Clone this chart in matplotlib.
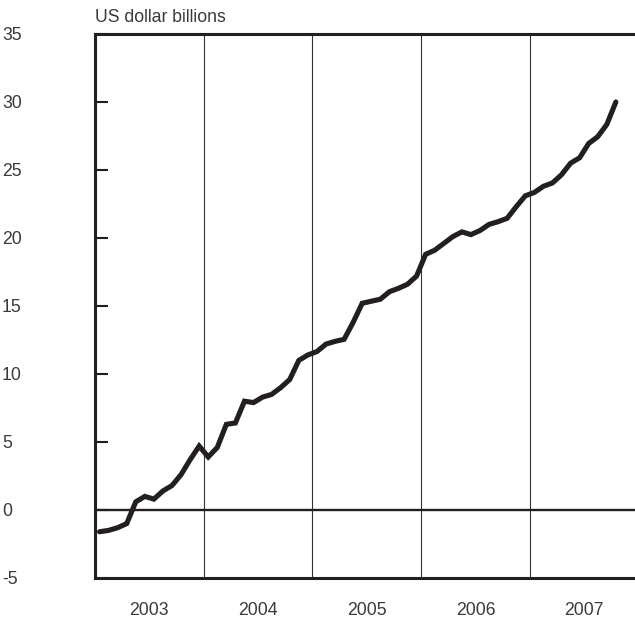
import numpy as np
import matplotlib
matplotlib.use("Agg")
import matplotlib.pyplot as plt

# monthly values, US dollar billions (Jan 2003 .. Oct 2007)
v2003 = [-1.6, -1.5, -1.3, -1.0, 0.6, 1.0, 0.8, 1.4, 1.8, 2.6, 3.7, 4.7]
v2004 = [3.9, 4.6, 6.3, 6.4, 8.0, 7.9, 8.3, 8.5, 9.0, 9.6, 11.0, 11.4]
v2005 = [11.65, 12.2, 12.4, 12.55, 13.8, 15.2, 15.35, 15.5, 16.05, 16.3, 16.6, 17.2]
v2006 = [18.8, 19.1, 19.6, 20.1, 20.45, 20.25, 20.55, 21.0, 21.2, 21.45, 22.3, 23.1]
v2007 = [23.35, 23.8, 24.05, 24.65, 25.5, 25.9, 26.95, 27.45, 28.35, 30.0]

years = [2003, 2004, 2005, 2006, 2007]
yticks = [-5, 0, 5, 10, 15, 20, 25, 30, 35]

values = np.array(v2003 + v2004 + v2005 + v2006 + v2007)
# mid-month positions
t = 2003 + (np.arange(len(values)) + 0.5) / 12

plt.rcParams['font.family'] = ['Liberation Sans', 'DejaVu Sans']
txt_col = '#3a3a3a'
ink = '#231f20'

fig = plt.figure(figsize=(6.35, 6.22), dpi=100)
ax = fig.add_axes([95 / 635, 44 / 622, 540 / 635, 544 / 622])

ax.plot(t, values, color=ink, lw=3.7, solid_capstyle='round', solid_joinstyle='miter', zorder=4)
ax.axhline(0, color=ink, lw=1.7, zorder=3)
for yr in years[1:]:
    ax.axvline(yr, color='#333333', lw=0.8, zorder=2)

ax.set_xlim(2003, 2003 + 540 / 108.7)
ax.set_ylim(-5, 35)

for s in ['top', 'bottom', 'left']:
    ax.spines[s].set_linewidth(2.2)
    ax.spines[s].set_color(ink)
ax.spines['right'].set_visible(False)

ax.set_yticks(yticks)
ax.set_yticklabels([str(v) for v in yticks])
ax.tick_params(axis='y', direction='in', length=9, width=1.5, color=ink,
               pad=67, labelsize=12.7, labelcolor=txt_col)
for lab in ax.get_yticklabels():
    lab.set_horizontalalignment('left')

ax.set_xticks(years)
ax.set_xticklabels([])
ax.tick_params(axis='x', which='major', length=0)
ax.set_xticks([y + 0.5 for y in years], minor=True)
ax.set_xticklabels([str(y) for y in years], minor=True)
ax.tick_params(axis='x', which='minor', length=0, pad=17, labelsize=12.7, labelcolor=txt_col)

fig.text(95 / 635, 1 - 18 / 622, 'US dollar billions', ha='left', va='center',
         fontsize=12.7, color=txt_col)

fig.savefig('out.png', dpi=100)
